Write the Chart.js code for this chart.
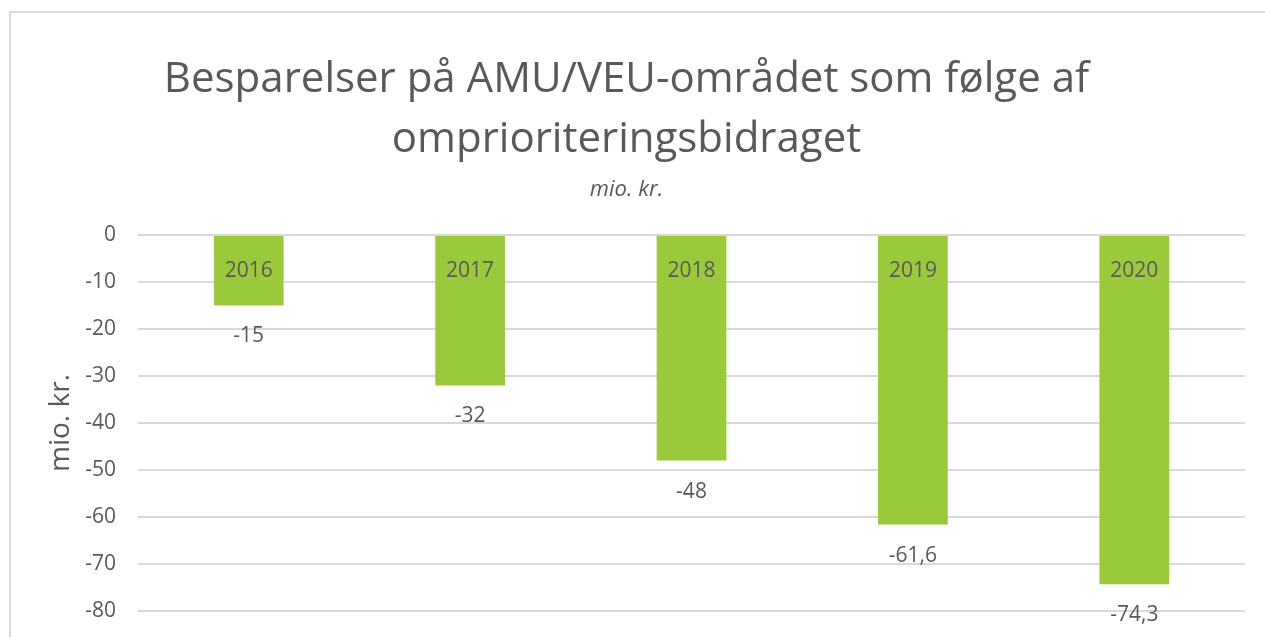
<!DOCTYPE html>
<html>
<head>
<meta charset="utf-8">
<script src="https://cdn.jsdelivr.net/npm/chart.js@4"></script>
<style>
    html, body { margin: 0; padding: 0; background: #fff; overflow: hidden; }
    #wrap { position: absolute; left: 0; top: 0; width: 1265px; height: 637px; }
    #frame { position: absolute; left: 9px; top: 11px; right: -5px; bottom: -5px;
             border-left: 2px solid #d9d9d9; border-top: 2px solid #d9d9d9; pointer-events: none; }
</style>
</head>
<body>
<div id="wrap">
    <canvas id="chart" width="1265" height="637"></canvas>
    <div id="frame"></div>
</div>
<script>
// Chart data
const years = ['2016', '2017', '2018', '2019', '2020'];
const savings = [-15, -32, -48, -61.6, -74.3];
const valueLabels = ['-15', '-32', '-48', '-61,6', '-74,3'];

const textColor = '#595959';
const fontFamily = '"Open Sans", "Noto Sans", sans-serif';

// Draws year labels inside the bars and value labels below them
const barLabels = {
    id: 'barLabels',
    afterDatasetsDraw(chart) {
        const ctx = chart.ctx;
        const yScale = chart.scales.y;
        const meta = chart.getDatasetMeta(0);
        ctx.save();
        ctx.fillStyle = textColor;
        ctx.font = '21px ' + fontFamily;
        ctx.textAlign = 'center';
        ctx.textBaseline = 'middle';
        meta.data.forEach((bar, i) => {
            ctx.fillText(years[i], bar.x, yScale.getPixelForValue(0) + 36);
            ctx.fillText(valueLabels[i], bar.x, bar.y + 31);
        });
        ctx.restore();
    }
};

function initializeChart() {
    const ctx = document.getElementById('chart').getContext('2d');
    new Chart(ctx, {
        type: 'bar',
        data: {
            labels: years,
            datasets: [{
                data: savings,
                backgroundColor: '#9aca3c',
                categoryPercentage: 1,
                barPercentage: 0.315
            }]
        },
        options: {
            responsive: false,
            animation: false,
            layout: { padding: { left: 8, right: 20, top: 0, bottom: 26 } },
            plugins: {
                legend: { display: false },
                tooltip: { enabled: false },
                title: {
                    display: true,
                    text: ['Besparelser på AMU/VEU-området som følge af', 'omprioriteringsbidraget'],
                    color: textColor,
                    font: { family: fontFamily, size: 42, weight: 'normal', lineHeight: 1.4286 },
                    padding: { top: 50, bottom: 7 }
                },
                subtitle: {
                    display: true,
                    text: 'mio. kr.',
                    color: textColor,
                    font: { family: fontFamily, size: 22, style: 'italic', lineHeight: 1.2 },
                    padding: { top: 0, bottom: 31.6 }
                }
            },
            scales: {
                x: {
                    display: false
                },
                y: {
                    min: -80,
                    max: 0,
                    afterFit(scale) {
                        scale.width = 130;
                        scale.paddingTop = 0;
                        scale.paddingBottom = 0;
                    },
                    ticks: {
                        stepSize: 10,
                        color: textColor,
                        padding: 22,
                        font: { family: fontFamily, size: 21 }
                    },
                    grid: { color: '#d9d9d9', lineWidth: 2, drawTicks: false },
                    border: { display: false },
                    title: {
                        display: true,
                        text: 'mio. kr.',
                        color: textColor,
                        font: { family: fontFamily, size: 28, lineHeight: 1.2 },
                        padding: { top: 36, bottom: 4 }
                    }
                }
            }
        },
        plugins: [barLabels]
    });
}

document.addEventListener('DOMContentLoaded', initializeChart);
</script>
</body>
</html>
